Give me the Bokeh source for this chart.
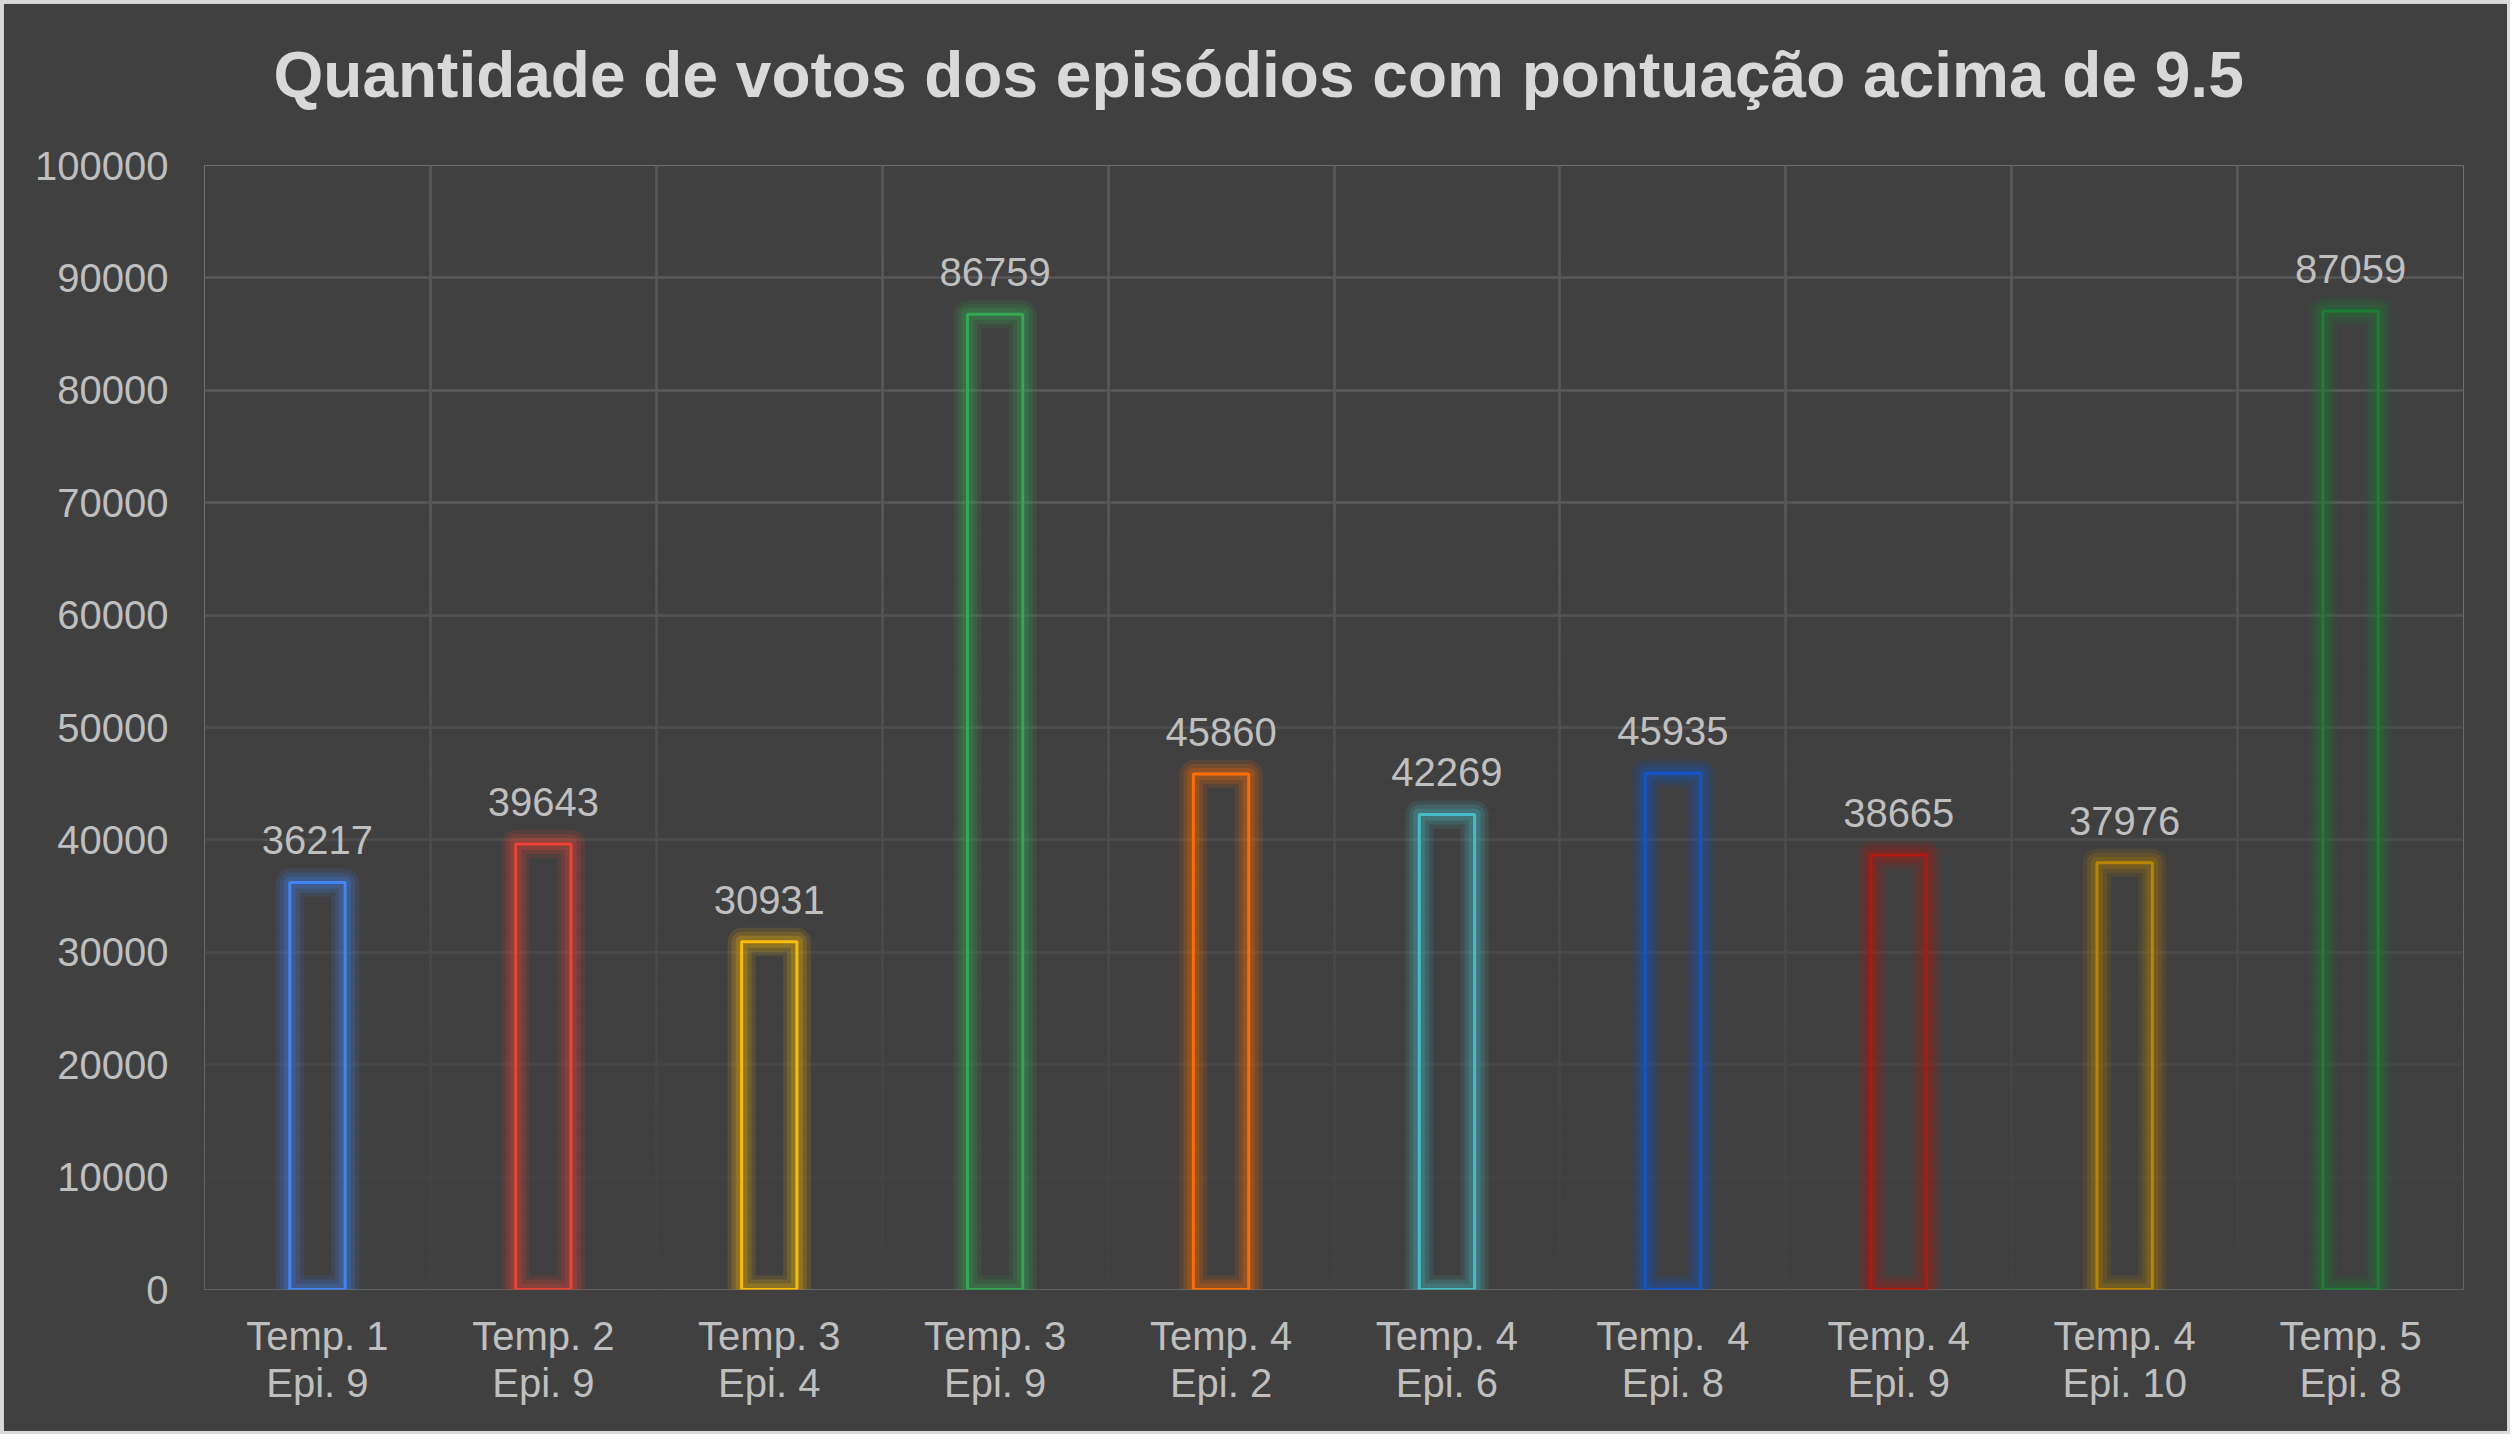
import numpy as np
from bokeh.plotting import figure
from bokeh.models import Range1d, FixedTicker, ColumnDataSource, BasicTickFormatter, Title
from bokeh.embed import file_html
from bokeh.resources import INLINE
from bokeh.core.properties import value

# ---- data ----
temporadas = ["Temp. 1", "Temp. 2", "Temp. 3", "Temp. 3", "Temp. 4",
              "Temp. 4", "Temp.  4", "Temp. 4", "Temp. 4", "Temp. 5"]
episodios = ["Epi. 9", "Epi. 9", "Epi. 4", "Epi. 9", "Epi. 2",
             "Epi. 6", "Epi. 8", "Epi. 9", "Epi. 10", "Epi. 8"]
votos = [36217, 39643, 30931, 86759, 45860, 42269, 45935, 38665, 37976, 87059]
cores = ["#4285F4", "#EA4335", "#FBBC04", "#34A853", "#FF6D01",
         "#46BDC6", "#1155CC", "#B1190F", "#B98600", "#1B7E34"]
y_ticks = [0, 10000, 20000, 30000, 40000, 50000, 60000, 70000, 80000, 90000, 100000]
titulo = "Quantidade de votos dos episódios com pontuação acima de 9.5"

n = len(votos)
xs = [i + 0.5 for i in range(n)]
src = ColumnDataSource(dict(x=xs, top=votos, cor=cores, lbl=[str(v) for v in votos]))

BG = "#404040"
FONT = "Liberation Sans"

p = figure(width=2510, height=1434, output_backend="svg", toolbar_location=None, title=None,
           x_range=Range1d(0, n), y_range=Range1d(0, 100000),
           min_border_left=201, min_border_right=50, min_border_top=162, min_border_bottom=148)
p.styles = {"border": "3px solid #d9d9d9"}
p.background_fill_color = BG
p.border_fill_color = BG
p.outline_line_color = None

# spacer between plot area and title, then the title itself
p.add_layout(Title(text=" ", text_font_size="2px", text_color=BG, standoff=51), "above")
p.add_layout(Title(text=titulo, align="left", offset=69, vertical_align="bottom", standoff=0,
                   text_font=FONT, text_font_style="bold", text_font_size="64px",
                   text_color="#d9d9d9"), "above")

# axes
for ax in (p.xaxis[0], p.yaxis[0]):
    ax.axis_line_color = None
    ax.major_tick_line_color = None
    ax.minor_tick_line_color = None
    ax.major_label_text_font = FONT
    ax.major_label_text_font_size = "40px"
    ax.major_label_text_color = "#bfbfbf"

p.yaxis.ticker = FixedTicker(ticks=y_ticks)
p.yaxis.formatter = BasicTickFormatter(use_scientific=False)
p.yaxis.major_label_standoff = 30
p.xaxis.ticker = FixedTicker(ticks=xs)
p.xaxis.major_label_overrides = {
    x: f"{t.replace('  ', chr(160) + ' ')}\n{e}" for x, t, e in zip(xs, temporadas, episodios)}
p.xaxis.major_label_standoff = 18
p.xaxis.major_label_text_line_height = 1.08

# grid
p.ygrid.ticker = FixedTicker(ticks=y_ticks)
p.xgrid.ticker = FixedTicker(ticks=list(range(n + 1)))
for g in (p.xgrid[0], p.ygrid[0]):
    g.grid_line_color = "#595959"
    g.grid_line_width = 2.6

# fading overlay over the lower part of the grid
H = 200
rows = (np.arange(H) + 0.5) / H * 100000
alpha = np.clip((70000 - rows) / 70000, 0, 1) ** 0.8 * 0.95
img = np.zeros((H, 1), dtype=np.uint32)
view = img.view(dtype=np.uint8).reshape((H, 1, 4))
view[:, 0, 0] = 0x40
view[:, 0, 1] = 0x40
view[:, 0, 2] = 0x40
view[:, 0, 3] = (alpha * 255).astype(np.uint8)
p.image_rgba(image=[img], x=0, y=0, dw=n, dh=100000)

# glow
BW = 0.245
for lw, a in [(28, 0.13), (20, 0.17), (12, 0.22)]:
    p.vbar(x="x", top="top", bottom=0, width=BW, source=src, fill_color=None,
           line_color="cor", line_width=lw, line_alpha=a, line_join="round")
# bars
p.vbar(x="x", top="top", bottom=0, width=BW, source=src, fill_color=None,
       line_color="cor", line_width=3)

# data labels
p.text(x="x", y="top", text="lbl", source=src, text_align="center",
       text_baseline="alphabetic", y_offset=-42, text_font=value(FONT),
       text_font_size="40px", text_color="#bfbfbf")

open("out.html", "w").write(file_html(p, INLINE))
